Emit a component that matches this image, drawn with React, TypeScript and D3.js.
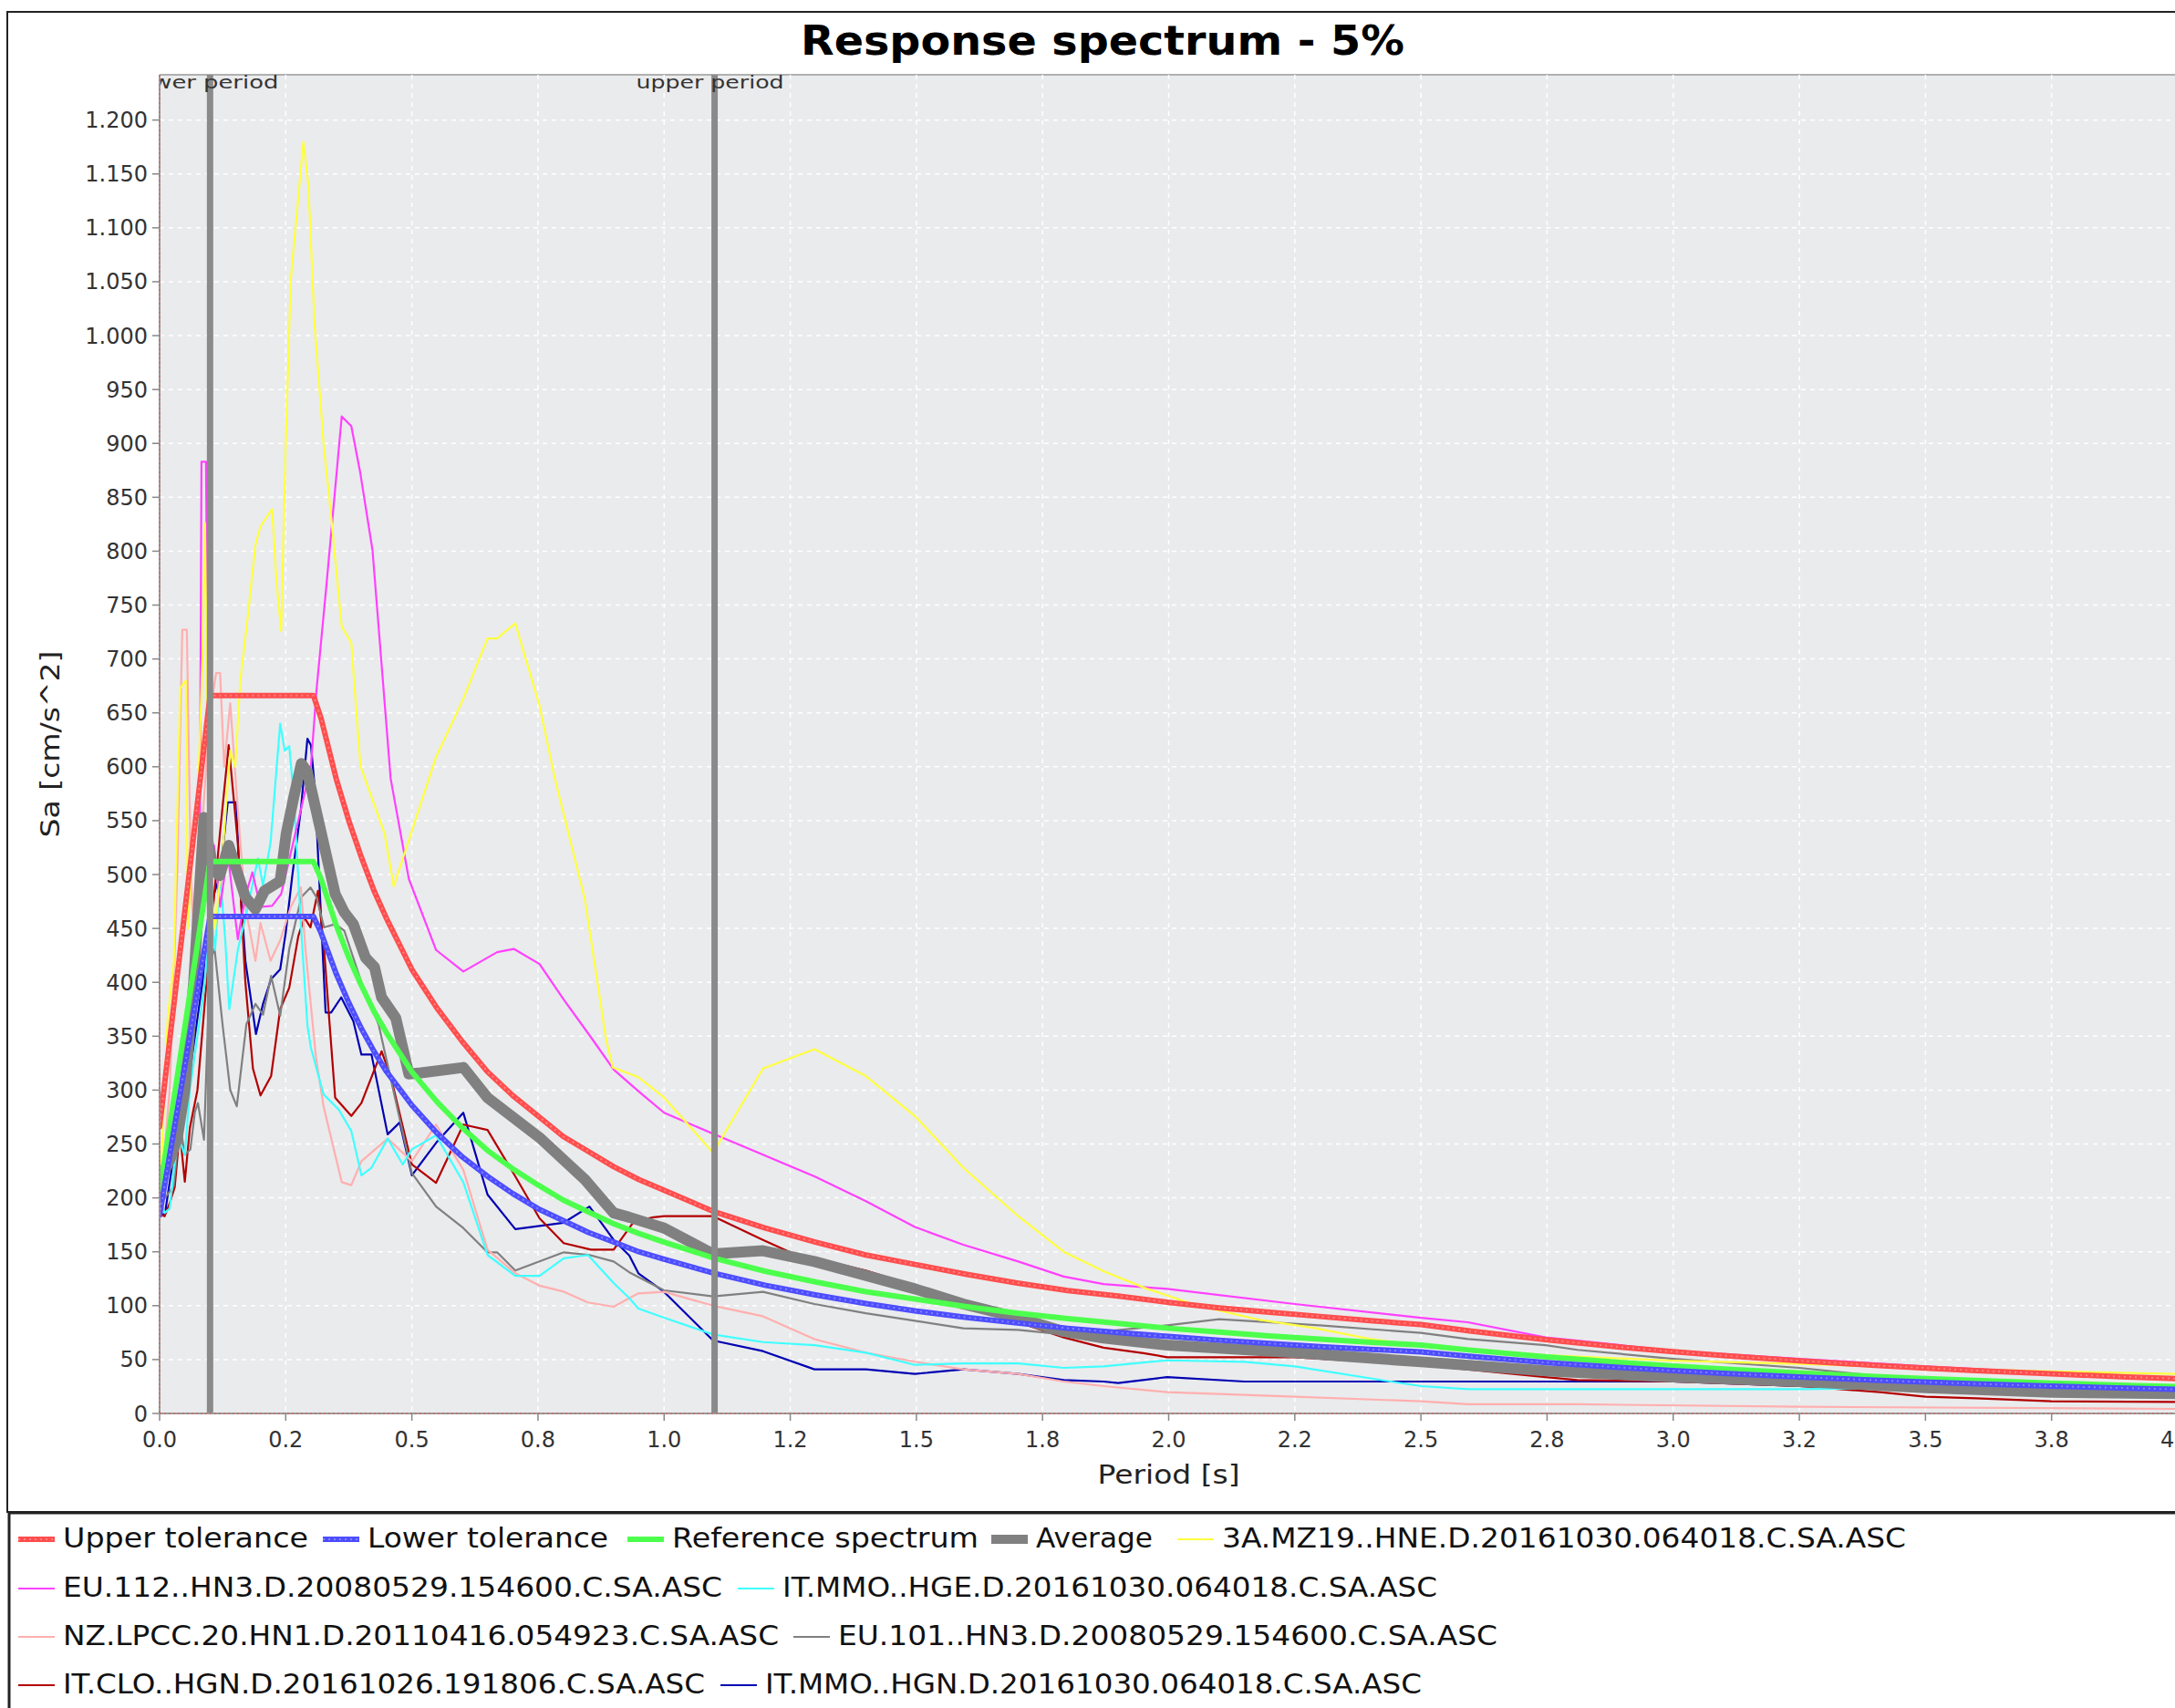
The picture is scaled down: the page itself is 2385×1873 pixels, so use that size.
import React from "react";
import * as d3 from "d3";

// ---------- texts ----------
const TITLE = "Response spectrum - 5%";
const X_LABEL = "Period [s]";
const Y_LABEL = "Sa [cm/s^2]";
const LOWER_LABEL = "lower period";
const UPPER_LABEL = "upper period";
const LOWER_PERIOD = 0.1;
const UPPER_PERIOD = 1.1;

// ---------- ticks ----------
const xTickValues = [0, 0.25, 0.5, 0.75, 1, 1.25, 1.5, 1.75, 2, 2.25, 2.5, 2.75, 3, 3.25, 3.5, 3.75, 4];
const xTickLabels = ["0.0", "0.2", "0.5", "0.8", "1.0", "1.2", "1.5", "1.8", "2.0", "2.2", "2.5", "2.8", "3.0", "3.2", "3.5", "3.8", "4.0"];
const yTickValues = [0, 50, 100, 150, 200, 250, 300, 350, 400, 450, 500, 550, 600, 650, 700, 750, 800, 850, 900, 950, 1000, 1050, 1100, 1150, 1200];
const yTickLabels = ["0", "50", "100", "150", "200", "250", "300", "350", "400", "450", "500", "550", "600", "650", "700", "750", "800", "850", "900", "950", "1.000", "1.050", "1.100", "1.150", "1.200"];

// ---------- series data: [period s, Sa cm/s^2] ----------
const upperTolerance: [number, number][] = [
  [0, 266], [0.1, 666], [0.305, 666], [0.32, 645], [0.35, 589], [0.375, 550], [0.4, 516], [0.425, 485], [0.45, 459],
  [0.5, 412], [0.55, 376], [0.6, 345], [0.65, 317], [0.7, 295], [0.75, 276], [0.8, 257], [0.85, 243], [0.9, 229],
  [0.95, 217], [1.0, 207], [1.1, 187], [1.2, 172], [1.3, 159], [1.4, 147], [1.5, 138], [1.6, 129], [1.7, 121],
  [1.8, 114], [1.9, 109], [2.0, 103], [2.1, 98], [2.2, 94], [2.3, 90], [2.4, 86], [2.5, 82.5], [2.6, 76.3],
  [2.75, 68.3], [2.9, 61.4], [3.0, 57.3], [3.1, 53.7], [3.25, 48.9], [3.4, 44.6], [3.5, 42.1], [3.6, 39.8],
  [3.75, 36.7], [3.9, 33.9], [4.0, 32.2],
];
const lowerTolerance: [number, number][] = [
  [0, 184], [0.1, 461], [0.305, 461], [0.32, 446], [0.35, 408], [0.375, 381], [0.4, 357], [0.425, 336], [0.45, 317],
  [0.5, 286], [0.55, 260], [0.6, 238], [0.65, 220], [0.7, 204], [0.75, 190], [0.8, 179], [0.85, 168], [0.9, 159],
  [0.95, 150], [1.0, 143], [1.1, 130], [1.2, 119], [1.3, 110], [1.4, 102], [1.5, 95], [1.6, 89], [1.7, 84],
  [1.8, 79], [1.9, 75], [2.0, 71.4], [2.1, 68], [2.2, 65], [2.3, 62], [2.4, 59.5], [2.5, 57.1], [2.6, 52.8],
  [2.75, 47.2], [2.9, 42.5], [3.0, 39.7], [3.1, 37.2], [3.25, 33.8], [3.4, 30.9], [3.5, 29.1], [3.6, 27.5],
  [3.75, 25.4], [3.9, 23.5], [4.0, 22.3],
];
const referenceSpectrum: [number, number][] = [
  [0, 205], [0.1, 512], [0.305, 512], [0.32, 496], [0.35, 453], [0.375, 423], [0.4, 397], [0.425, 373], [0.45, 353],
  [0.5, 317], [0.55, 289], [0.6, 265], [0.65, 244], [0.7, 227], [0.75, 212], [0.8, 198], [0.85, 187], [0.9, 176],
  [0.95, 167], [1.0, 159], [1.1, 144], [1.2, 132], [1.3, 122], [1.4, 113], [1.5, 106], [1.6, 99], [1.7, 93],
  [1.8, 88], [1.9, 83.5], [2.0, 79], [2.1, 75.6], [2.2, 72], [2.3, 69], [2.4, 66], [2.5, 63.5], [2.6, 58.7],
  [2.75, 52.5], [2.9, 47.2], [3.0, 44.1], [3.1, 41.3], [3.25, 37.6], [3.4, 34.3], [3.5, 32.4], [3.6, 30.6],
  [3.75, 28.2], [3.9, 26.1], [4.0, 24.8],
];
const average: [number, number][] = [
  [0, 215], [0.02, 235], [0.035, 255], [0.05, 300], [0.068, 403], [0.083, 516], [0.088, 553], [0.105, 505],
  [0.119, 499], [0.137, 527], [0.152, 505], [0.17, 479], [0.19, 468], [0.208, 485], [0.239, 494], [0.251, 538],
  [0.266, 572], [0.281, 603], [0.293, 595], [0.311, 558], [0.326, 527], [0.348, 482], [0.366, 465], [0.384, 454],
  [0.408, 423], [0.426, 414], [0.44, 386], [0.468, 367], [0.494, 315], [0.518, 316], [0.602, 321], [0.65, 293],
  [0.753, 256], [0.843, 217], [0.9, 186], [0.931, 182], [1.0, 172], [1.097, 148], [1.196, 151], [1.298, 141],
  [1.4, 128], [1.497, 115.6], [1.593, 101.5], [1.702, 88.8], [1.792, 76], [1.871, 70], [1.997, 63.4],
  [2.25, 56.4], [2.5, 47.9], [2.747, 39.5], [2.81, 38], [3.0, 33.8], [3.25, 29.6], [3.5, 24], [3.75, 19.7], [4.0, 18.3],
];
const rec3AMZ19: [number, number][] = [
  [0, 195], [0.016, 366], [0.028, 417], [0.041, 673], [0.052, 680], [0.056, 450], [0.065, 520], [0.075, 560],
  [0.085, 700], [0.09, 826], [0.095, 640], [0.1, 500], [0.11, 450], [0.125, 520], [0.14, 615], [0.15, 600],
  [0.16, 680], [0.175, 740], [0.19, 806], [0.2, 823], [0.223, 839], [0.232, 770], [0.241, 726], [0.25, 900],
  [0.26, 1052], [0.285, 1180], [0.295, 1139], [0.307, 1012], [0.325, 900], [0.34, 832], [0.361, 730],
  [0.38, 715], [0.398, 601], [0.446, 538], [0.464, 489], [0.548, 609], [0.602, 663], [0.65, 719], [0.669, 719],
  [0.705, 733], [0.753, 657], [0.783, 590], [0.843, 477], [0.885, 347], [0.898, 321], [0.949, 312], [1.0, 293],
  [1.097, 242], [1.196, 320], [1.298, 338], [1.4, 313], [1.497, 276], [1.593, 228], [1.702, 183], [1.792, 150],
  [1.871, 132], [1.955, 116], [2.051, 101], [2.178, 87], [2.292, 79], [2.4, 69], [2.5, 63], [2.75, 54],
  [3.0, 49], [3.25, 46], [3.5, 42], [3.75, 39], [4.0, 36.6],
];
const recEU112: [number, number][] = [
  [0, 190], [0.02, 230], [0.04, 300], [0.06, 380], [0.075, 450], [0.08, 560], [0.083, 883], [0.092, 883],
  [0.095, 700], [0.1, 490], [0.108, 527], [0.12, 470], [0.135, 520], [0.155, 440], [0.17, 480], [0.184, 502],
  [0.2, 470], [0.223, 471], [0.241, 482], [0.26, 520], [0.28, 560], [0.3, 601], [0.311, 671], [0.331, 770],
  [0.361, 925], [0.38, 916], [0.398, 872], [0.422, 801], [0.458, 589], [0.494, 496], [0.548, 430], [0.602, 410],
  [0.669, 428], [0.702, 431], [0.753, 417], [0.801, 384], [0.855, 349], [0.9, 319], [0.949, 299], [1.0, 279],
  [1.097, 259.5], [1.196, 240], [1.298, 220], [1.4, 197], [1.497, 173], [1.593, 156.5], [1.702, 141],
  [1.792, 127], [1.871, 120], [1.997, 115.6], [2.25, 101.5], [2.5, 88.8], [2.593, 84.6], [2.747, 70.5],
  [2.81, 67.7], [3.0, 58], [3.25, 50.7], [3.5, 43.7], [3.75, 37.5], [4.0, 33],
];
const recITMMOHGE: [number, number][] = [
  [0, 200], [0.01, 186], [0.02, 190], [0.036, 257], [0.05, 240], [0.06, 300], [0.075, 350], [0.09, 400],
  [0.1, 470], [0.11, 430], [0.12, 500], [0.13, 440], [0.138, 375], [0.155, 430], [0.175, 470], [0.195, 515],
  [0.205, 490], [0.22, 530], [0.239, 640], [0.248, 615], [0.257, 619], [0.266, 572], [0.281, 446], [0.293, 360],
  [0.3, 339], [0.325, 296], [0.355, 282], [0.38, 262], [0.4, 221], [0.42, 228], [0.452, 255], [0.482, 231],
  [0.5, 245], [0.548, 258], [0.602, 214.5], [0.65, 147], [0.705, 127.6], [0.753, 127.6], [0.801, 144],
  [0.849, 147], [0.9, 121], [0.931, 107], [0.949, 97.3], [1.0, 88.8], [1.097, 73.3], [1.196, 66.2],
  [1.298, 63.4], [1.4, 56.4], [1.497, 45.1], [1.593, 46.5], [1.702, 46.5], [1.792, 42.3], [1.871, 43.7],
  [1.997, 49.3], [2.15, 47.9], [2.25, 43.7], [2.44, 29.6], [2.5, 25.4], [2.593, 22.6], [2.81, 22.6],
  [3.0, 22.6], [3.25, 22.6], [3.5, 24], [3.75, 23], [4.0, 22],
];
const recNZLPCC: [number, number][] = [
  [0, 190], [0.02, 300], [0.035, 500], [0.045, 727], [0.054, 727], [0.062, 500], [0.07, 420], [0.085, 550],
  [0.1, 650], [0.112, 687], [0.12, 687], [0.128, 600], [0.14, 659], [0.155, 560], [0.17, 470], [0.19, 420],
  [0.2, 455], [0.22, 420], [0.24, 440], [0.26, 470], [0.28, 488], [0.289, 431], [0.31, 330], [0.325, 285],
  [0.361, 214.6], [0.38, 211.8], [0.4, 234], [0.452, 255], [0.5, 234], [0.548, 268], [0.602, 226], [0.65, 152],
  [0.705, 130], [0.753, 118.6], [0.801, 113], [0.849, 103], [0.9, 99], [0.931, 107], [0.949, 111.4],
  [1.0, 112.8], [1.097, 100], [1.196, 90.2], [1.298, 69], [1.4, 56.4], [1.497, 48], [1.593, 40.9],
  [1.702, 36.7], [1.792, 29.6], [1.871, 25.4], [1.997, 19.7], [2.25, 15.5], [2.5, 11.3], [2.593, 8.5],
  [2.81, 8.5], [3.25, 6.2], [4.0, 4.2],
];
const recEU101: [number, number][] = [
  [0, 195], [0.0105, 200], [0.028, 211], [0.04, 270], [0.05, 240], [0.061, 245], [0.07, 280], [0.076, 288],
  [0.088, 254], [0.095, 350], [0.1, 420], [0.109, 431], [0.125, 360], [0.14, 300], [0.153, 285], [0.172, 361],
  [0.19, 380], [0.205, 370], [0.221, 406], [0.239, 369], [0.257, 431], [0.281, 479], [0.299, 488], [0.311, 479],
  [0.326, 451], [0.348, 454], [0.366, 448], [0.4, 400], [0.434, 361], [0.5, 223], [0.548, 192], [0.602, 172],
  [0.65, 149.5], [0.669, 149.5], [0.705, 132.6], [0.801, 149.5], [0.852, 147], [0.9, 141], [0.931, 131],
  [1.0, 114.2], [1.097, 108.6], [1.196, 112.8], [1.298, 101.5], [1.4, 93], [1.497, 86], [1.593, 79],
  [1.702, 77.5], [1.792, 73.3], [1.871, 76], [1.997, 81.8], [2.1, 87.4], [2.3, 81.8], [2.5, 74.7],
  [2.593, 69], [2.747, 63.4], [2.81, 59], [3.0, 50.7], [3.25, 42.3], [3.5, 30], [3.75, 24], [4.0, 19],
];
const recITCLO: [number, number][] = [
  [0, 185], [0.01, 183], [0.02, 195], [0.03, 210], [0.04, 262], [0.05, 215], [0.06, 265], [0.075, 300],
  [0.086, 361], [0.1, 440], [0.12, 540], [0.137, 620], [0.155, 530], [0.17, 400], [0.185, 320], [0.2, 295],
  [0.221, 313], [0.239, 375], [0.257, 395], [0.275, 443], [0.287, 460], [0.299, 451], [0.314, 485],
  [0.326, 431], [0.337, 361], [0.348, 293], [0.38, 276], [0.4, 288], [0.44, 336], [0.458, 313], [0.5, 231],
  [0.548, 214], [0.602, 268], [0.65, 263], [0.705, 220], [0.753, 181], [0.801, 158], [0.855, 152], [0.9, 152],
  [0.94, 178], [0.979, 182], [1.0, 183], [1.097, 183], [1.196, 161], [1.25, 149.5], [1.4, 132.5],
  [1.497, 118.5], [1.593, 103], [1.702, 84.6], [1.792, 70.5], [1.871, 61], [1.95, 56], [1.997, 52.2],
  [2.25, 52.2], [2.5, 45.1], [2.747, 33.8], [2.81, 31], [3.0, 29.6], [3.25, 25.4], [3.41, 19.7], [3.5, 15.5],
  [3.6, 14.1], [3.75, 11.3], [4.0, 10.7],
];
const recITMMOHGN: [number, number][] = [
  [0, 185], [0.0105, 185], [0.025, 230], [0.043, 274], [0.055, 300], [0.07, 350], [0.085, 400], [0.1, 470],
  [0.12, 500], [0.135, 567], [0.152, 567], [0.158, 500], [0.17, 420], [0.191, 352], [0.205, 380], [0.221, 403],
  [0.239, 412], [0.25, 446], [0.263, 499], [0.28, 560], [0.293, 626], [0.3, 620], [0.308, 578], [0.329, 372],
  [0.34, 372], [0.36, 386], [0.384, 364], [0.4, 333], [0.42, 333], [0.452, 259], [0.476, 270], [0.5, 221],
  [0.548, 251], [0.602, 279], [0.65, 203], [0.705, 171], [0.801, 177], [0.852, 192], [0.9, 161], [0.931, 146.6],
  [0.949, 130], [1.0, 112.8], [1.097, 67.7], [1.196, 57.8], [1.298, 40.9], [1.4, 40.9], [1.497, 36.7],
  [1.593, 40.9], [1.702, 36.7], [1.792, 31], [1.871, 29.6], [1.9, 28.2], [1.997, 33.8], [2.15, 29.6],
  [2.5, 29.6], [3.0, 29.6], [3.25, 25.4], [3.5, 24], [4.0, 22],
];

// ---------- series appearance + legend layout ----------
type Series = {
  name: string; data: [number, number][]; color: string; width: number; dots?: string;
  legendRow: number; legendX: number; legendLen: number;
};
const series: Series[] = [
  { name: "Upper tolerance", data: upperTolerance, color: "#ff4d4d", width: 6, dots: "#ff9a9a", legendRow: 0, legendX: 20, legendLen: 269 },
  { name: "Lower tolerance", data: lowerTolerance, color: "#4d4dff", width: 6, dots: "#9a9aff", legendRow: 0, legendX: 354, legendLen: 264 },
  { name: "Reference spectrum", data: referenceSpectrum, color: "#4dff4d", width: 6, legendRow: 0, legendX: 688, legendLen: 336 },
  { name: "Average", data: average, color: "#808080", width: 12, legendRow: 0, legendX: 1087, legendLen: 128 },
  { name: "3A.MZ19..HNE.D.20161030.064018.C.SA.ASC", data: rec3AMZ19, color: "#ffff40", width: 2.2, legendRow: 0, legendX: 1291, legendLen: 750 },
  { name: "EU.112..HN3.D.20080529.154600.C.SA.ASC", data: recEU112, color: "#ff40ff", width: 2.2, legendRow: 1, legendX: 20, legendLen: 723 },
  { name: "IT.MMO..HGE.D.20161030.064018.C.SA.ASC", data: recITMMOHGE, color: "#40ffff", width: 2.2, legendRow: 1, legendX: 809, legendLen: 718 },
  { name: "NZ.LPCC.20.HN1.D.20110416.054923.C.SA.ASC", data: recNZLPCC, color: "#ffafaf", width: 2.2, legendRow: 2, legendX: 20, legendLen: 785 },
  { name: "EU.101..HN3.D.20080529.154600.C.SA.ASC", data: recEU101, color: "#808080", width: 2.2, legendRow: 2, legendX: 870, legendLen: 723 },
  { name: "IT.CLO..HGN.D.20161026.191806.C.SA.ASC", data: recITCLO, color: "#b20000", width: 2.2, legendRow: 3, legendX: 20, legendLen: 704 },
  { name: "IT.MMO..HGN.D.20161030.064018.C.SA.ASC", data: recITMMOHGN, color: "#0000b2", width: 2.2, legendRow: 3, legendX: 790, legendLen: 720 },
];

const W = 2385;
const H = 1873;
const PLOT = { left: 175, right: 2388, top: 82, bottom: 1550 };
const FONT = "'DejaVu Sans', Verdana, sans-serif";

export default function App() {
  const x = d3.scaleLinear().domain([0, 4]).range([PLOT.left, PLOT.right]);
  const y = d3.scaleLinear().domain([0, 1242]).range([PLOT.bottom, PLOT.top]);
  const line = d3.line<[number, number]>().x((d) => x(d[0])).y((d) => y(d[1])).curve(d3.curveLinear);
  const drawOrder = [...series].reverse();
  const legendBaselines = [1697, 1751, 1804, 1857];

  return (
    <div style={{ position: "absolute", left: 0, top: 0, width: W, height: H, overflow: "hidden", background: "#fff" }}>
      <svg width={W} height={H} viewBox={`0 0 ${W} ${H}`} style={{ display: "block" }} fontFamily={FONT}>
        <defs>
          <clipPath id="plotClip">
            <rect x={PLOT.left} y={PLOT.top} width={PLOT.right - PLOT.left} height={PLOT.bottom - PLOT.top} />
          </clipPath>
        </defs>
        <rect x={0} y={0} width={W} height={H} fill="#ffffff" />
        {/* chart border */}
        <rect x={8} y={13} width={W + 20} height={1645} fill="none" stroke="#222" strokeWidth={2} />
        {/* title */}
        <text x={1209} y={60} textAnchor="middle" fontSize={44} fontWeight="bold" fill="#000"
          textLength={662} lengthAdjust="spacingAndGlyphs">{TITLE}</text>

        {/* plot background */}
        <rect x={PLOT.left} y={PLOT.top} width={PLOT.right - PLOT.left} height={PLOT.bottom - PLOT.top} fill="#eaebed" />
        <line x1={PLOT.left} x2={PLOT.right} y1={PLOT.top} y2={PLOT.top} stroke="#b0b0b0" strokeWidth={2} />
        {/* gridlines */}
        {yTickValues.filter((v) => v > 0).map((v) => (
          <line key={"gy" + v} x1={PLOT.left} x2={PLOT.right} y1={y(v)} y2={y(v)} stroke="#ffffff" strokeWidth={1.5} strokeDasharray="5,5" />
        ))}
        {xTickValues.filter((v) => v > 0).map((v) => (
          <line key={"gx" + v} x1={x(v)} x2={x(v)} y1={PLOT.top} y2={PLOT.bottom} stroke="#ffffff" strokeWidth={1.5} strokeDasharray="5,5" />
        ))}

        {/* series */}
        <g clipPath="url(#plotClip)">
          {drawOrder.map((s) => (
            <g key={s.name}>
              <path d={line(s.data) || ""} fill="none" stroke={s.color} strokeWidth={s.width} strokeLinejoin="round" strokeLinecap="round" />
              {s.dots && (
                <path d={line(s.data) || ""} fill="none" stroke={s.dots} strokeWidth={2} strokeDasharray="2,4" opacity={0.7} />
              )}
            </g>
          ))}
          {/* period markers */}
          {[LOWER_PERIOD, UPPER_PERIOD].map((p) => (
            <line key={"m" + p} x1={x(p)} x2={x(p)} y1={PLOT.top} y2={PLOT.bottom} stroke="#8a8a8a" strokeWidth={7} />
          ))}
          <text x={x(LOWER_PERIOD) + 75} y={97} textAnchor="end" fontSize={20} fill="#333"
            textLength={161} lengthAdjust="spacingAndGlyphs">{LOWER_LABEL}</text>
          <text x={x(UPPER_PERIOD) + 76} y={97} textAnchor="end" fontSize={20} fill="#333"
            textLength={162} lengthAdjust="spacingAndGlyphs">{UPPER_LABEL}</text>
        </g>

        {/* axes lines */}
        <line x1={PLOT.left} x2={PLOT.left} y1={PLOT.top} y2={PLOT.bottom} stroke="#9a9a9a" strokeWidth={2} />
        <line x1={PLOT.left} x2={PLOT.left} y1={PLOT.top} y2={PLOT.bottom} stroke="#e05050" strokeWidth={1} strokeDasharray="2,3" />
        <line x1={PLOT.left} x2={PLOT.right} y1={PLOT.bottom} y2={PLOT.bottom} stroke="#9a9a9a" strokeWidth={2} />
        <line x1={PLOT.left} x2={PLOT.right} y1={PLOT.bottom} y2={PLOT.bottom} stroke="#e05050" strokeWidth={1} strokeDasharray="2,3" />

        {/* y ticks */}
        {yTickValues.map((v, i) => (
          <g key={"yt" + v}>
            <line x1={PLOT.left - 8} x2={PLOT.left} y1={y(v)} y2={y(v)} stroke="#888" strokeWidth={1.5} />
            <text x={PLOT.left - 13} y={y(v) + 8.5} textAnchor="end" fontSize={24} fill="#333">{yTickLabels[i]}</text>
          </g>
        ))}
        {/* x ticks */}
        {xTickValues.map((v, i) => (
          <g key={"xt" + v}>
            <line x1={x(v)} x2={x(v)} y1={PLOT.bottom} y2={PLOT.bottom + 8} stroke="#888" strokeWidth={1.5} />
            <text x={x(v)} y={1587} textAnchor="middle" fontSize={24} fill="#333">{xTickLabels[i]}</text>
          </g>
        ))}
        {/* axis labels */}
        <text x={(PLOT.left + PLOT.right) / 2} y={1627} textAnchor="middle" fontSize={28} fill="#222"
          textLength={156} lengthAdjust="spacingAndGlyphs">{X_LABEL}</text>
        <text transform={`translate(65, ${(PLOT.top + PLOT.bottom) / 2}) rotate(-90)`} textAnchor="middle" fontSize={28} fill="#222"
          textLength={205} lengthAdjust="spacingAndGlyphs">{Y_LABEL}</text>

        {/* legend */}
        <rect x={10} y={1659} width={W + 20} height={400} fill="#fff" stroke="#222" strokeWidth={3} />
        {series.map((s) => {
          const by = legendBaselines[s.legendRow];
          const sy = by - 9;
          return (
            <g key={"lg" + s.name}>
              <line x1={s.legendX} x2={s.legendX + 40} y1={sy} y2={sy} stroke={s.color} strokeWidth={Math.min(s.width, 10)} />
              {s.dots && <line x1={s.legendX} x2={s.legendX + 40} y1={sy} y2={sy} stroke={s.dots} strokeWidth={2} strokeDasharray="2,4" opacity={0.7} />}
              <text x={s.legendX + 49} y={by} fontSize={30} fill="#111"
                textLength={s.legendLen} lengthAdjust="spacingAndGlyphs">{s.name}</text>
            </g>
          );
        })}
      </svg>
    </div>
  );
}
